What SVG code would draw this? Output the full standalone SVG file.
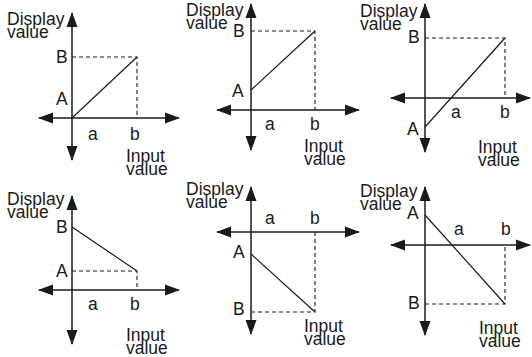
<svg xmlns="http://www.w3.org/2000/svg" width="532" height="357" viewBox="0 0 532 357">
<style>
text{font-family:"Liberation Sans",Arial,sans-serif;font-size:17.5px;fill:#1a1a1a}
.ax{stroke:#1a1a1a;stroke-width:1.5;fill:none;marker-start:url(#ah);marker-end:url(#ah)}
.ln{stroke:#1a1a1a;stroke-width:1.2;fill:none}
.ds{stroke:#1a1a1a;stroke-width:1.1;fill:none;stroke-dasharray:4 3}
</style>
<defs>
<marker id="ah" markerWidth="15" markerHeight="12" refX="14" refY="6" orient="auto-start-reverse" markerUnits="userSpaceOnUse">
<path d="M0,0.5 L15,6 L0,11.5 z" fill="#1a1a1a"/>
</marker>
</defs>
<rect width="532" height="357" fill="#fff"/>

<g id="panel1">
<line class="ax" x1="72" y1="160" x2="72" y2="13"/>
<line class="ax" x1="39" y1="118" x2="179" y2="118"/>
<polyline class="ds" points="72,57 137,57 137,118"/>
<line class="ln" x1="72" y1="118" x2="137" y2="57"/>
<text x="7" y="25">Display</text>
<text x="7" y="38">value</text>
<text x="56" y="63">B</text>
<text x="56" y="105">A</text>
<text x="88" y="140">a</text>
<text x="130" y="140">b</text>
<text x="126" y="162">Input</text>
<text x="126" y="175">value</text>
</g>

<g id="panel2">
<line class="ax" x1="251" y1="150" x2="251" y2="4"/>
<line class="ax" x1="217" y1="110" x2="359" y2="110"/>
<polyline class="ds" points="251,31 315,31 315,110"/>
<line class="ln" x1="251" y1="90" x2="315" y2="31"/>
<text x="186" y="16">Display</text>
<text x="186" y="29">value</text>
<text x="233" y="37">B</text>
<text x="232" y="97">A</text>
<text x="265" y="130">a</text>
<text x="310" y="130">b</text>
<text x="304" y="152">Input</text>
<text x="304" y="165">value</text>
</g>

<g id="panel3">
<line class="ax" x1="425" y1="152" x2="425" y2="4"/>
<line class="ax" x1="391" y1="98" x2="530" y2="98"/>
<polyline class="ds" points="425,38 505,38 505,98"/>
<line class="ln" x1="425" y1="127" x2="505" y2="38"/>
<text x="360" y="17">Display</text>
<text x="360" y="30">value</text>
<text x="408" y="43">B</text>
<text x="407" y="135">A</text>
<text x="451" y="118">a</text>
<text x="500" y="118">b</text>
<text x="478" y="153">Input</text>
<text x="478" y="166">value</text>
</g>

<g id="panel4">
<line class="ax" x1="72" y1="344" x2="72" y2="196"/>
<line class="ax" x1="39" y1="290" x2="179" y2="290"/>
<polyline class="ds" points="72,271 137,271 137,290"/>
<line class="ln" x1="72" y1="227" x2="137" y2="271"/>
<text x="7" y="205">Display</text>
<text x="7" y="218">value</text>
<text x="56" y="233">B</text>
<text x="56" y="277">A</text>
<text x="88" y="310">a</text>
<text x="130" y="310">b</text>
<text x="126" y="341">Input</text>
<text x="126" y="354">value</text>
</g>

<g id="panel5">
<line class="ax" x1="251" y1="334" x2="251" y2="187"/>
<line class="ax" x1="217" y1="232" x2="359" y2="232"/>
<polyline class="ds" points="251,312 315,312 315,232"/>
<line class="ln" x1="251" y1="254" x2="315" y2="312"/>
<text x="186" y="195">Display</text>
<text x="186" y="208">value</text>
<text x="265" y="224">a</text>
<text x="310" y="224">b</text>
<text x="233" y="258">A</text>
<text x="233" y="315">B</text>
<text x="304" y="332">Input</text>
<text x="304" y="345">value</text>
</g>

<g id="panel6">
<line class="ax" x1="425" y1="335" x2="425" y2="187"/>
<line class="ax" x1="391" y1="245" x2="530" y2="245"/>
<polyline class="ds" points="425,304 505,304 505,245"/>
<line class="ln" x1="425" y1="215" x2="505" y2="304"/>
<text x="360" y="197">Display</text>
<text x="360" y="210">value</text>
<text x="407" y="219">A</text>
<text x="454" y="235">a</text>
<text x="501" y="235">b</text>
<text x="408" y="309">B</text>
<text x="479" y="334">Input</text>
<text x="479" y="347">value</text>
</g>
</svg>
